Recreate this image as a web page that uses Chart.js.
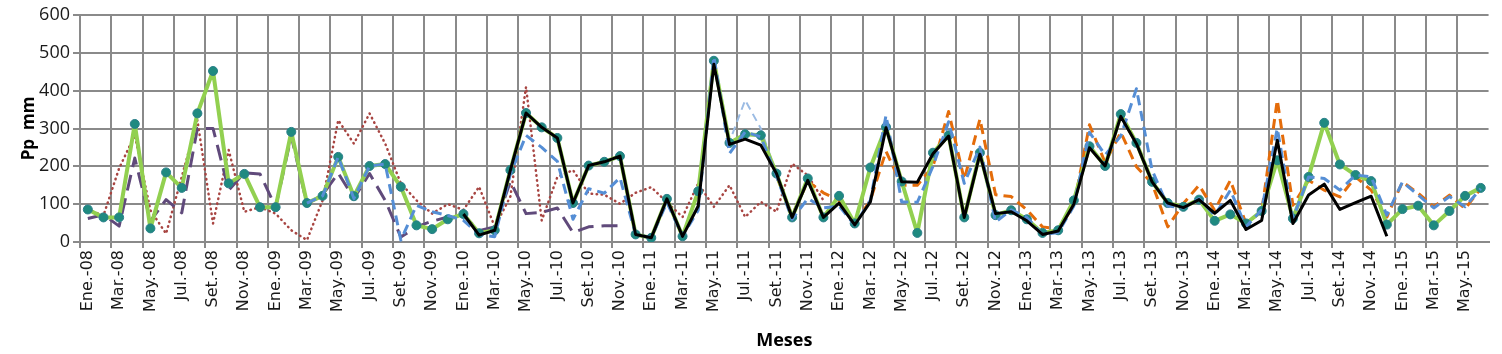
<!DOCTYPE html>
<html>
<head>
<meta charset="utf-8">
<script src="https://cdn.jsdelivr.net/npm/chart.js@4.4.1/dist/chart.umd.min.js"></script>
<style>
  html, body { margin: 0; padding: 0; background: #fff; }
  #wrap { width: 1502px; height: 354px; }
</style>
</head>
<body>
<div id="wrap"><canvas id="c" width="1502" height="354"></canvas></div>
<script>
const monthNames = ['Ene.', 'Feb.', 'Mar.', 'Abr.', 'May.', 'Jun.', 'Jul.', 'Ago.', 'Set.', 'Oct.', 'Nov.', 'Dic.'];
const years = ['08', '09', '10', '11', '12', '13', '14', '15'];
const categories = [];
years.forEach(y => monthNames.forEach(m => categories.push(m + '-' + y)));
categories.length = 90; // Ene.-08 .. Jun.-15

// Green series with teal markers (i = 0..89)
const serieVerde = [86, 65, 65, 312, 36, 184, 143, 340, 452, 155, 180, 92,
  92, 291, 103, 122, 225, 121, 201, 206, 146, 44, 34, 60,
  74, 23, 31, 190, 341, 303, 275, 103, 202, 212, 227, 20,
  11, 114, 15, 134, 479, 262, 285, 282, 181, 65, 168, 65,
  122, 49, 197, 304, 160, 24, 236, 282, 65, 236, 71, 84,
  60, 24, 31, 110, 253, 201, 338, 262, 159, 103, 93, 112,
  56, 73, 49, 82, 216, 62, 172, 315, 205, 177, 161, 46,
  87, 96, 44, 82, 122, 143];

// Black series (Ene.-10 .. Nov.-14)
const serieNegra = [null, null, null, null, null, null, null, null, null, null, null, null,
  null, null, null, null, null, null, null, null, null, null, null, null,
  74, 18, 31, 190, 341, 303, 275, 103, 202, 212, 227, 20,
  11, 114, 15, 95, 470, 258, 272, 256, 181, 65, 163, 65,
  103, 45, 106, 302, 159, 158, 233, 280, 65, 232, 75, 80,
  56, 20, 29, 100, 249, 201, 332, 260, 159, 103, 91, 112,
  76, 110, 33, 57, 269, 49, 124, 153, 86, 104, 121, 15,
  null, null, null, null, null, null];

// Blue dashed series
const serieAzul = [null, null, null, null, null, null, null, null, null, null, null, null,
  null, null, 103, 122, 225, 115, 201, 206, 5, 97, 80, 70,
  57, 20, 14, 180, 282, 250, 213, 60, 141, 129, 170, 20,
  11, 105, 15, 84, 490, 234, 291, 278, 175, 60, 115, 90,
  95, 45, 110, 335, 106, 105, 200, 318, 155, 251, 53, 85,
  65, 20, 25, 95, 290, 230, 280, 405, 190, 95, 90, 115,
  70, 137, 40, 85, 300, 62, 172, 168, 137, 177, 172, 71,
  159, 124, 90, 120, 93, 141];

// Light blue thin dashed series (visible only where it departs from the blue one)
const serieCeleste = [null, null, null, null, null, null, null, null, null, null, null, null,
  null, null, null, null, null, null, null, null, null, null, null, null,
  null, null, null, null, null, null, null, null, null, null, null, null,
  null, null, null, null, 480, 265, 375, 300, 180, null, null, null,
  null, null, null, null, null, null, null, null, null, null, null, null,
  null, null, null, null, null, null, null, null, null, null, null, null,
  null, null, null, null, null, null, null, null, null, null, null, null,
  null, null, null, null, null, null];

// Orange dashed series
const serieNaranja = [null, null, null, null, null, null, null, null, null, null, null, null,
  null, null, null, null, null, null, null, null, null, null, null, null,
  null, null, null, null, null, null, null, null, null, null, null, null,
  null, null, null, null, null, null, null, null, 175, 70, 160, 130,
  110, 50, 110, 240, 150, 150, 200, 345, 165, 325, 125, 120,
  85, 40, 35, 95, 310, 210, 290, 199, 155, 40, 102, 150,
  84, 163, 49, 80, 375, 97, 163, 137, 119, 172, 137, 66,
  159, 129, 93, 124, 88, 141];

// Purple long-dash series
const serieMorada = [62, 72, 42, 222, 55, 112, 77, 300, 300, 137, 183, 180,
  92, 280, 100, 125, 182, 115, 181, 110, 13, 40, 55, 66,
  70, 30, 40, 160, 75, 78, 90, 25, 40, 43, 43, null,
  null, null, null, null, null, null, null, null, null, null, null, null,
  null, null, null, null, null, null, null, null, null, null, null, null,
  null, null, null, null, null, null, null, null, null, null, null, null,
  null, null, null, null, null, null, null, null, null, null, null, null,
  null, null, null, null, null, null];

// Brown dotted series
const serieMarron = [86, 70, 195, 282, 84, 22, 172, 322, 49, 243, 80, 92,
  75, 31, 5, 110, 322, 260, 340, 260, 155, 110, 75, 100,
  85, 146, 40, 120, 410, 57, 172, 190, 128, 125, 101, 130,
  145, 105, 66, 155, 93, 150, 66, 106, 80, 207, 176, 110,
  null, null, null, null, null, null, null, null, null, null, null, null,
  null, null, null, null, null, null, null, null, null, null, null, null,
  null, null, null, null, null, null, null, null, null, null, null, null,
  null, null, null, null, null, null];

const yTicks = [0, 100, 200, 300, 400, 500, 600];

const gridGray = '#8a8a8a';

new Chart(document.getElementById('c'), {
  type: 'line',
  data: {
    labels: categories,
    datasets: [
      { data: serieNegra, borderColor: '#000000', borderWidth: 3, borderJoinStyle: 'round', pointRadius: 0, order: 0 },
      { data: serieAzul, borderColor: '#558ed5', borderWidth: 3, borderDash: [10, 6], borderJoinStyle: 'round', pointRadius: 0, order: 1 },
      { data: serieVerde, borderColor: '#92d050', borderWidth: 4, borderJoinStyle: 'round', pointRadius: 4.5, pointBackgroundColor: '#1f8a80', pointBorderColor: '#2a7f8a', pointBorderWidth: 1, order: 2 },
      { data: serieCeleste, borderColor: '#9bbbe3', borderWidth: 2, borderDash: [8, 5], borderJoinStyle: 'round', pointRadius: 0, order: 3 },
      { data: serieNaranja, borderColor: '#e46c0a', borderWidth: 3, borderDash: [10, 6], borderJoinStyle: 'round', pointRadius: 0, order: 4 },
      { data: serieMorada, borderColor: '#604a7b', borderWidth: 3, borderDash: [16, 8], borderJoinStyle: 'round', pointRadius: 0, order: 5 },
      { data: serieMarron, borderColor: '#a84542', borderWidth: 2.5, borderDash: [0.5, 4.5], borderCapStyle: 'round', borderJoinStyle: 'round', pointRadius: 0, order: 6 }
    ]
  },
  options: {
    responsive: false,
    animation: false,
    events: [],
    layout: { padding: { top: 15, right: 10, left: 0, bottom: 0 } },
    plugins: { legend: { display: false }, tooltip: { enabled: false } },
    scales: {
      x: {
        offset: true,
        grid: {
          offset: true,
          color: ctx => (ctx.index % 2 === 0 ? gridGray : 'rgba(0,0,0,0)'),
          lineWidth: 2,
          tickLength: 6,
          drawTicks: true
        },
        border: { color: gridGray, width: 2 },
        ticks: {
          autoSkip: false,
          minRotation: 90,
          maxRotation: 90,
          padding: 2,
          color: '#1a1a1a',
          font: { family: 'DejaVu Sans', size: 16 },
          callback: function (val, idx) { return idx % 2 === 0 ? categories[idx] : ''; }
        },
        title: {
          display: true,
          text: 'Meses',
          color: '#000',
          font: { family: 'Open Sans', size: 18, weight: 'bold' },
          padding: { top: 0, bottom: 2 }
        },
        afterFit: s => { s.height = 112; }
      },
      y: {
        min: 0,
        max: 600,
        afterBuildTicks: s => { s.ticks = yTicks.map(v => ({ value: v })); },
        grid: { color: gridGray, lineWidth: 2, tickLength: 7 },
        border: { color: gridGray, width: 2 },
        ticks: {
          color: '#1a1a1a',
          padding: 3,
          font: { family: 'Open Sans', size: 18 }
        },
        title: {
          display: true,
          text: 'Pp  mm',
          color: '#000',
          font: { family: 'Open Sans', size: 17, weight: 'bold' },
          padding: { top: 19, bottom: 0 }
        },
        afterFit: s => { s.width = 80; }
      }
    }
  }
});
</script>
</body>
</html>
